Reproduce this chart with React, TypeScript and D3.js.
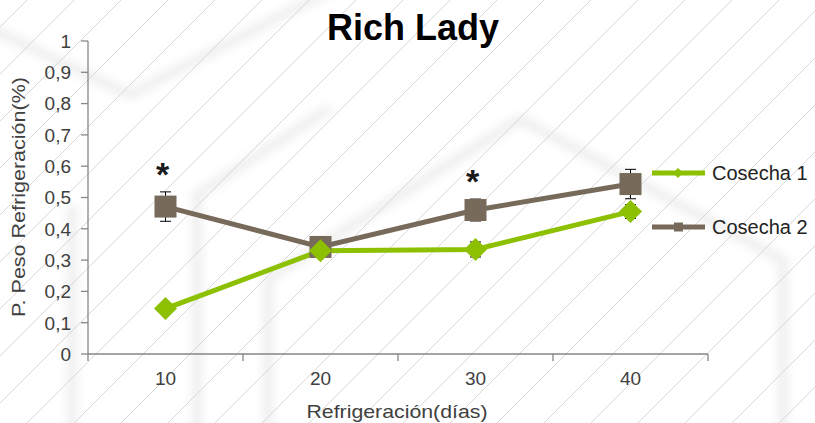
import React from "react";
import * as d3 from "d3";

const categories = ["10", "20", "30", "40"];
const cosecha1 = [0.145, 0.33, 0.334, 0.455];
const cosecha1Err = [0.01, 0.015, 0.024, 0.022];
const cosecha2 = [0.471, 0.342, 0.46, 0.543];
const cosecha2Err = [0.047, 0.03, 0.035, 0.047];
const significance = ["*", "", "*", ""];
const yTicks = [0, 0.1, 0.2, 0.3, 0.4, 0.5, 0.6, 0.7, 0.8, 0.9, 1];
const seriesNames = ["Cosecha 1", "Cosecha 2"];
const title = "Rich Lady";
const xTitle = "Refrigeración(días)";
const yTitle = "P. Peso Refrigeración(%)";

const W = 815;
const H = 423;
const GREEN = "#8cc000";
const BROWN = "#776a5b";
const FONT = "'Liberation Sans', Arial, sans-serif";

export default function App() {
  const x = d3.scaleBand<string>().domain(categories).range([88, 708]);
  const y = d3.scaleLinear().domain([0, 1]).range([354, 41]);
  const cx = (c: string) => (x(c) ?? 0) + x.bandwidth() / 2;

  const line = d3
    .line<number>()
    .x((_, i) => cx(categories[i]))
    .y((d) => y(d));

  // background diagonal lines
  const diag: string[] = [];
  for (let k = -500; k < W + 500; k += 47) {
    diag.push(`M${k},${H + 10} L${k + H + 20},-10`);
  }

  const diamond = (px: number, py: number, r: number) =>
    `M${px},${py - r} L${px + r},${py} L${px},${py + r} L${px - r},${py} Z`;

  const fmt = (v: number) => (v === 0 ? "0" : v === 1 ? "1" : String(v).replace(".", ","));

  const errBars = (vals: number[], errs: number[]) =>
    vals.map((v, i) => {
      const px = cx(categories[i]);
      const t = y(v + errs[i]);
      const b = y(v - errs[i]);
      return (
        <g key={i} stroke="#000" strokeWidth={1}>
          <line x1={px} x2={px} y1={t} y2={b} />
          <line x1={px - 5.5} x2={px + 5.5} y1={t} y2={t} />
          <line x1={px - 5.5} x2={px + 5.5} y1={b} y2={b} />
        </g>
      );
    });

  return (
    <svg
      width={W}
      height={H}
      style={{ position: "fixed", left: 0, top: 0, background: "#fff" }}
      fontFamily={FONT}
    >
      <defs>
        <filter id="blur" x="-20%" y="-20%" width="140%" height="140%">
          <feGaussianBlur stdDeviation="5" />
        </filter>
      </defs>
      <rect width={W} height={H} fill="#fff" />
      {/* soft background shapes */}
      <g fill="none" stroke="#000" strokeOpacity={0.07} strokeWidth={9} filter="url(#blur)">
        <path d="M-10,28 L130,95 L330,-10" />
        <path d="M268,440 L268,279 L520,119 L783,260 L783,440" />
        <path d="M197,440 L197,195 L330,108" />
        <path d="M72,440 L72,205" />
      </g>
      <g stroke="#d8d8d8" strokeWidth={1}>
        {diag.map((d, i) => (
          <path key={i} d={d} />
        ))}
      </g>

      {/* title */}
      <text x={413} y={40} textAnchor="middle" fontSize={36} fontWeight="bold" fill="#000">
        {title}
      </text>

      {/* axes */}
      <g stroke="#868686" strokeWidth={1.3} fill="none">
        <line x1={88} x2={88} y1={y(1)} y2={y(0)} />
        <line x1={88} x2={708} y1={y(0)} y2={y(0)} />
        {yTicks.map((t) => (
          <line key={t} x1={81} x2={88} y1={y(t)} y2={y(t)} />
        ))}
        {[...categories.map((c) => x(c) ?? 0), 708].map((p, i) => (
          <line key={i} x1={p} x2={p} y1={y(0)} y2={y(0) + 7} />
        ))}
      </g>
      <g fontSize={19} fill="#404040">
        {yTicks.map((t) => (
          <text key={t} x={71} y={y(t)} dy="0.36em" textAnchor="end">
            {fmt(t)}
          </text>
        ))}
        {categories.map((c) => (
          <text key={c} x={cx(c)} y={385} textAnchor="middle">
            {c}
          </text>
        ))}
      </g>
      <text
        x={397}
        y={418}
        textAnchor="middle"
        fontSize={19}
        fill="#404040"
        textLength={181}
        lengthAdjust="spacingAndGlyphs"
      >
        {xTitle}
      </text>
      <text
        transform={`translate(25,197) rotate(-90)`}
        textAnchor="middle"
        fontSize={19}
        fill="#404040"
        textLength={240}
        lengthAdjust="spacingAndGlyphs"
      >
        {yTitle}
      </text>

      {/* error bars */}
      {errBars(cosecha2, cosecha2Err)}
      {errBars(cosecha1, cosecha1Err)}

      {/* series lines */}
      <path d={line(cosecha2) ?? ""} fill="none" stroke={BROWN} strokeWidth={5} />
      <path d={line(cosecha1) ?? ""} fill="none" stroke={GREEN} strokeWidth={5} />

      {/* markers */}
      {cosecha2.map((v, i) => (
        <rect
          key={i}
          x={cx(categories[i]) - 11}
          y={y(v) - 11}
          width={22}
          height={22}
          fill={BROWN}
        />
      ))}
      {cosecha1.map((v, i) => (
        <path key={i} d={diamond(cx(categories[i]), y(v), 11.5)} fill={GREEN} />
      ))}

      {/* significance */}
      {significance.map((s, i) =>
        s ? (
          <text
            key={i}
            x={cx(categories[i]) - 3}
            y={y(cosecha2[i] + cosecha2Err[i]) - 24 + 18}
            textAnchor="middle"
            fontSize={34}
            fontWeight="bold"
            fill="#1a1a1a"
          >
            {s}
          </text>
        ) : null
      )}

      {/* legend */}
      {[GREEN, BROWN].map((col, i) => {
        const ly = 173 + i * 54;
        return (
          <g key={i}>
            <line x1={652} x2={705} y1={ly} y2={ly} stroke={col} strokeWidth={5} />
            {i === 0 ? (
              <path d={diamond(678, ly, 5)} fill={col} />
            ) : (
              <rect x={674} y={ly - 4.5} width={9} height={9} fill={col} />
            )}
            <text x={712} y={ly + 7} fontSize={20} fill="#222">
              {seriesNames[i]}
            </text>
          </g>
        );
      })}
    </svg>
  );
}
